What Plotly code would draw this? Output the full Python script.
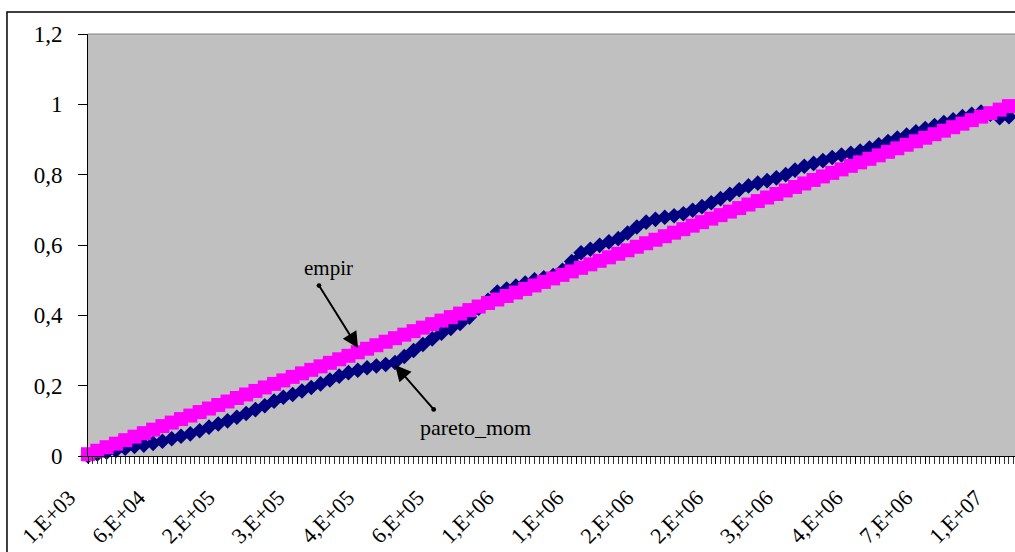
import plotly.graph_objects as go

# category index of each plotted point (every 2nd of 200 categories)
cat_index = list(range(0, 200, 2))

empir = [0.005, 0.015, 0.025, 0.035, 0.045, 0.055, 0.065, 0.075, 0.085, 0.095,
         0.105, 0.115, 0.125, 0.135, 0.145, 0.155, 0.165, 0.175, 0.185, 0.195,
         0.205, 0.215, 0.225, 0.235, 0.245, 0.255, 0.265, 0.275, 0.285, 0.295,
         0.305, 0.315, 0.325, 0.335, 0.345, 0.355, 0.365, 0.375, 0.385, 0.395,
         0.405, 0.415, 0.425, 0.435, 0.445, 0.455, 0.465, 0.475, 0.485, 0.495,
         0.505, 0.515, 0.525, 0.535, 0.545, 0.555, 0.565, 0.575, 0.585, 0.595,
         0.605, 0.615, 0.625, 0.635, 0.645, 0.655, 0.665, 0.675, 0.685, 0.695,
         0.705, 0.715, 0.725, 0.735, 0.745, 0.755, 0.765, 0.775, 0.785, 0.795,
         0.805, 0.815, 0.825, 0.835, 0.845, 0.855, 0.865, 0.875, 0.885, 0.895,
         0.905, 0.915, 0.925, 0.935, 0.945, 0.955, 0.965, 0.975, 0.985, 0.995]

pareto_mom = [0.000, 0.006, 0.011, 0.016, 0.022, 0.027, 0.031, 0.036, 0.042, 0.049,
              0.056, 0.063, 0.072, 0.082, 0.091, 0.100, 0.110, 0.121, 0.132, 0.143,
              0.156, 0.167, 0.175, 0.185, 0.195, 0.205, 0.216, 0.227, 0.237, 0.244,
              0.251, 0.256, 0.260, 0.266, 0.283, 0.300, 0.317, 0.333, 0.349, 0.363,
              0.377, 0.395, 0.420, 0.443, 0.466, 0.475, 0.483, 0.492, 0.501, 0.507,
              0.513, 0.528, 0.553, 0.578, 0.588, 0.599, 0.609, 0.618, 0.634, 0.651,
              0.665, 0.673, 0.679, 0.683, 0.689, 0.699, 0.709, 0.720, 0.732, 0.744,
              0.757, 0.768, 0.776, 0.783, 0.791, 0.800, 0.813, 0.824, 0.832, 0.840,
              0.849, 0.856, 0.861, 0.867, 0.876, 0.885, 0.894, 0.904, 0.913, 0.922,
              0.931, 0.940, 0.948, 0.956, 0.965, 0.972, 0.978, 0.972, 0.962, 0.965]

tick_positions = [0, 15, 30, 45, 60, 75, 90, 105, 120, 135, 150, 165, 180, 195]
tick_labels = ["1,E+03", "6,E+04", "2,E+05", "3,E+05", "4,E+05", "6,E+05", "1,E+06",
               "1,E+06", "2,E+06", "2,E+06", "3,E+06", "4,E+06", "7,E+06", "1,E+07"]

y_ticks = [0, 0.2, 0.4, 0.6, 0.8, 1.0, 1.2]

FONT = "Liberation Serif"

fig = go.Figure()
fig.add_trace(go.Scatter(
    x=cat_index, y=pareto_mom, name="pareto_mom", mode="lines+markers",
    line=dict(color="#000080", width=6),
    marker=dict(symbol="diamond", size=12, color="#000080"),
    cliponaxis=False))
fig.add_trace(go.Scatter(
    x=cat_index, y=empir, name="empir", mode="lines+markers",
    line=dict(color="#FF00FF", width=9),
    marker=dict(symbol="square", size=14, color="#FF00FF"),
    cliponaxis=False))

fig.update_layout(
    width=1015, height=552,
    margin=dict(l=88, r=0, t=34, b=96),
    paper_bgcolor="white", plot_bgcolor="#C0C0C0",
    showlegend=False,
    separators=",.",
    font=dict(family=FONT, color="black", size=22),
)

fig.update_xaxes(
    range=[0, 199.3], showgrid=False, zeroline=False,
    showline=True, linecolor="black", linewidth=1,
    tickmode="array", tickvals=tick_positions, ticktext=tick_labels,
    tickangle=-45, ticks="outside", ticklen=7, tickcolor="black",
    tickfont=dict(family=FONT, size=22),
    ticklabelstandoff=12, ticklabelshift=-19,
    minor=dict(dtick=1, tick0=0, ticks="outside", ticklen=7, tickcolor="#333333"),
)
fig.update_yaxes(
    range=[0, 1.2], showgrid=False, zeroline=False,
    showline=True, linecolor="black", linewidth=1,
    tickmode="array", tickvals=y_ticks,
    ticks="outside", ticklen=9, tickcolor="black",
    tickfont=dict(family=FONT, size=23),
    ticklabelstandoff=11,
)

# top border of plot area
fig.add_shape(type="line", xref="paper", yref="paper", x0=0, x1=1, y0=1, y1=1,
              line=dict(color="#808080", width=1))
# outer chart border
fig.add_shape(type="rect", xref="paper", yref="paper",
              x0=-0.0874, x1=1.02, y0=-0.3, y1=1.052,
              line=dict(color="black", width=1.5), layer="above")

# arrows
fig.add_annotation(x=58.06, y=0.307, ax=-40, ay=-64, text="", showarrow=True,
                   arrowhead=2, arrowsize=1.6, arrowwidth=2, arrowcolor="black",
                   arrowside="end+start", startarrowhead=6, startarrowsize=0.6)
fig.add_annotation(x=66.0, y=0.259, ax=40, ay=46, text="", showarrow=True,
                   arrowhead=2, arrowsize=1.6, arrowwidth=2, arrowcolor="black",
                   arrowside="end+start", startarrowhead=6, startarrowsize=0.6)
# labels
fig.add_annotation(x=51.6, y=0.535, text="empir", showarrow=False,
                   font=dict(family=FONT, size=21))
fig.add_annotation(x=83.4, y=0.080, text="pareto_mom", showarrow=False,
                   font=dict(family=FONT, size=22))

fig.write_html("out.html")
